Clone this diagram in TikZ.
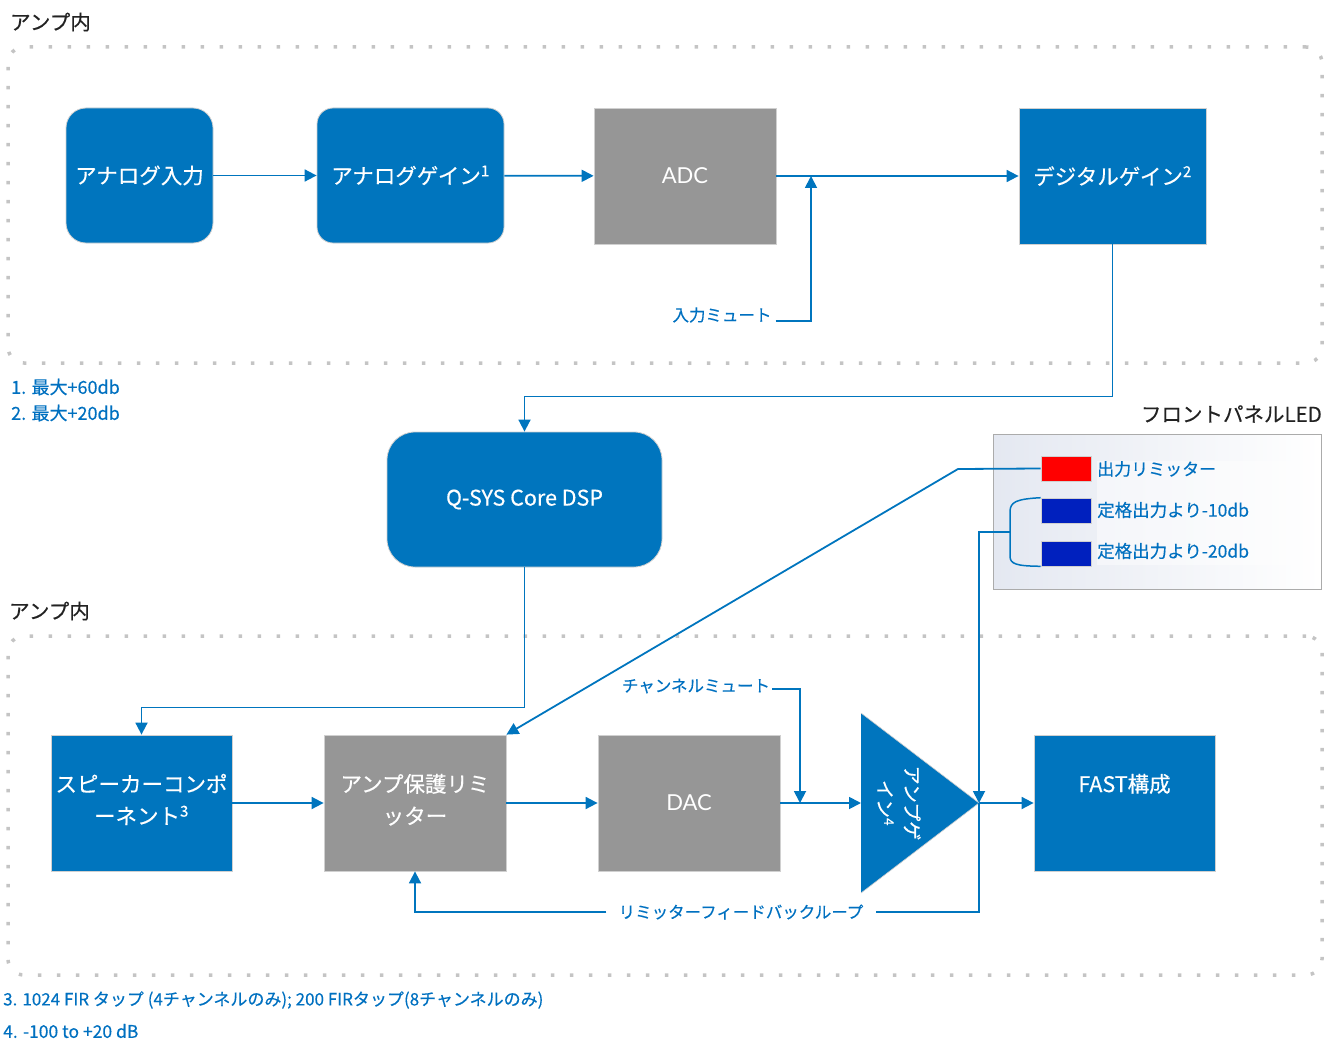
\documentclass[tikz,border=0pt]{standalone}
\usepackage{fontspec}
\setmainfont{Noto Sans CJK JP}[FakeBold=0.35]
\newfontfamily\convfont{Lato}
\usetikzlibrary{positioning,arrows.meta,calc}
\definecolor{qblue}{HTML}{0075BE}
\definecolor{qtext}{HTML}{0070C0}
\definecolor{qgray}{HTML}{969696}
\definecolor{edgegray}{HTML}{D0D0D0}
\definecolor{dotgray}{HTML}{C4C4C4}
\definecolor{ledred}{HTML}{FF0000}
\definecolor{ledblue}{HTML}{0020BE}
\definecolor{panelbg}{HTML}{E4E8F1}
\definecolor{titletext}{HTML}{222222}

\begin{document}
\begin{tikzpicture}[
    x=1pt,y=-1pt,
    >={Triangle[length=12pt,width=12pt]},
    every node/.style={inner sep=0pt},
    bluebox/.style={
        fill=qblue,
        draw=edgegray,
        line width=0.8pt,
        text=white,
        align=center,
        font=\fontsize{21.5}{32}\selectfont,
    },
    roundbox/.style={bluebox,rounded corners=#1},
    graybox/.style={
        fill=qgray,
        draw=edgegray,
        line width=0.8pt,
        text=white,
        align=center,
        font=\fontsize{21.5}{32}\selectfont,
    },
    dotframe/.style={
        draw=dotgray,
        line width=3.5pt,
        dash pattern=on 3.5pt off 15.5pt,
        rounded corners=16pt,
    },
    swatch/.style={draw=edgegray,line width=0.6pt,minimum width=50pt,minimum height=25pt,fill=#1},
    connector/.style={line width=1.8pt,color=qblue},
    note/.style={font=\fontsize{18}{22}\selectfont,text=qtext,anchor=west},
    lbl/.style={font=\fontsize{16.5}{20}\selectfont,text=qtext},
    heading/.style={font=\fontsize{20.5}{24}\selectfont,text=titletext},
]
\useasboundingbox (0,0) rectangle (1325,1043);

% === Amp frames ===
\node[dotframe,minimum width=1314pt,minimum height=316pt] (ampframe1) at (665,205) {};
\node[dotframe,minimum width=1314pt,minimum height=339pt] (ampframe2) at (665,805.5) {};
\node[heading,anchor=west] (title1) at (10,22) {アンプ内};
\node[heading,anchor=west] (title2) at (9,611) {アンプ内};

% === Input chain ===
\node[roundbox=20pt,minimum width=147pt,minimum height=135pt] (ain) at (139.5,175.5) {アナログ入力};
\node[roundbox=16pt,minimum width=187pt,minimum height=135pt] (again) at (410.5,175.5) {アナログゲイン\textsuperscript{1}};
\node[graybox,minimum width=182pt,minimum height=136pt,font=\convfont\fontsize{22}{26}\selectfont] (adc) at (685,176) {ADC};
\node[bluebox,minimum width=187pt,minimum height=136pt] (dgain) at (1112.5,176) {デジタルゲイン\textsuperscript{2}};

\draw[connector,->] (ain) -- (again);
\draw[connector,->] (again) -- (adc);
\draw[connector,->] (adc) -- (dgain);

\node[lbl] (inmute) at (722,315) {入力ミュート};
\coordinate (inmutejoin) at (811,176);
\draw[connector,->] ([shift={(4,6)}]inmute.east) -| (inmutejoin);

\node[note] (fn1) at (11,387) {1. 最大+60db};
\node[note] (fn2) at (11,413) {2. 最大+20db};

% === Core ===
\node[roundbox=28pt,minimum width=275pt,minimum height=135pt] (dsp) at (524.5,499.5) {Q-SYS Core DSP};
\draw[connector,->] (dgain.south) -- ++(0,152) -| (dsp.north);

% === Front panel LEDs ===
\node[heading,anchor=east] (ledtitle) at (1322,414) {フロントパネルLED};
\node[draw=qgray!80,line width=0.8pt,left color=panelbg,right color=white,
      minimum width=328pt,minimum height=155pt] (ledpanel) at (1157,511.5) {};
\node[fill=white,opacity=0.45,minimum width=210pt,minimum height=104pt] (ledtextbg) at (1202,513) {};
\node[swatch=ledred] (led1) at (1066,468.5) {};
\node[swatch=ledblue] (led2) at (1066,510.5) {};
\node[swatch=ledblue] (led3) at (1066,553.5) {};
\node[lbl,anchor=west,font=\fontsize{17}{20}\selectfont] (led1t) at (1097,469) {出力リミッター};
\node[lbl,anchor=west,font=\fontsize{17.5}{20}\selectfont] (led2t) at (1097,510) {定格出力より-10db};
\node[lbl,anchor=west,font=\fontsize{17.5}{20}\selectfont] (led3t) at (1097,551) {定格出力より-20db};

\draw[qblue,line width=1.5pt] (led2.north west) .. controls (1016,499) and (1010,502) .. (1010,512)
    -- (1010,556) .. controls (1010,564) and (1016,566) .. (led3.south west);
\coordinate (bracket) at (1010,532);

% === Output chain ===
\node[bluebox,minimum width=181pt,minimum height=136pt] (spk) at (141.5,803) {スピーカーコンポ\\ーネント\textsuperscript{3}\\[-24pt]};
\node[graybox,minimum width=182pt,minimum height=136pt] (lim) at (415,803) {アンプ保護リミ\\ッター\\[-24pt]};
\node[graybox,minimum width=182pt,minimum height=136pt,font=\convfont\fontsize{22}{26}\selectfont] (dac) at (689,803) {DAC};
\fill[qblue] (861,713) -- (979,803) -- (861,893) -- cycle;
\draw[edgegray,line width=0.6pt] (861,713) -- (979,803) -- (861,893);
\coordinate (ampin) at (861,803);
\coordinate (amptip) at (979,803);
\node[rotate=-90,text=white,align=center,font=\fontsize{19}{27}\selectfont] (ampgain) at (899,803) {アンプゲ\\イン\textsuperscript{4}};
\node[bluebox,minimum width=181pt,minimum height=136pt] (fast) at (1124.5,803) {FAST構成\\\mbox{}\\[-24pt]};

\draw[connector,->] (dsp.south) -- ++(0,140) -| (spk.north);
\draw[connector,->] (spk) -- (lim);
\draw[connector,->] (lim) -- (dac);
\draw[connector,->] (dac) -- (ampin);
\draw[connector,->] (amptip) -- (fast);

\node[lbl] (chmute) at (696,686) {チャンネルミュート};
\coordinate (chmutejoin) at (800,803);
\draw[connector,->] ([shift={(2,3)}]chmute.east) -| (chmutejoin);

\draw[connector,->] (led1.west) -- (958,469) -- (lim.north east);
\draw[connector,->] (bracket) -| (amptip);

\node[lbl,inner xsep=12pt] (fbloop) at (741,912) {リミッターフィードバックループ};
\draw[connector] (amptip) |- (fbloop.east);
\draw[connector,->] (fbloop.west) -| (lim.south);

\node[note,font=\fontsize{17}{22}\selectfont] (fn3) at (3,1000) {3. 1024 FIR タップ (4チャンネルのみ); 200 FIRタップ(8チャンネルのみ)};
\node[note,font=\fontsize{17.5}{22}\selectfont] (fn4) at (3,1031) {4. -100 to +20 dB};
\end{tikzpicture}
\end{document}
